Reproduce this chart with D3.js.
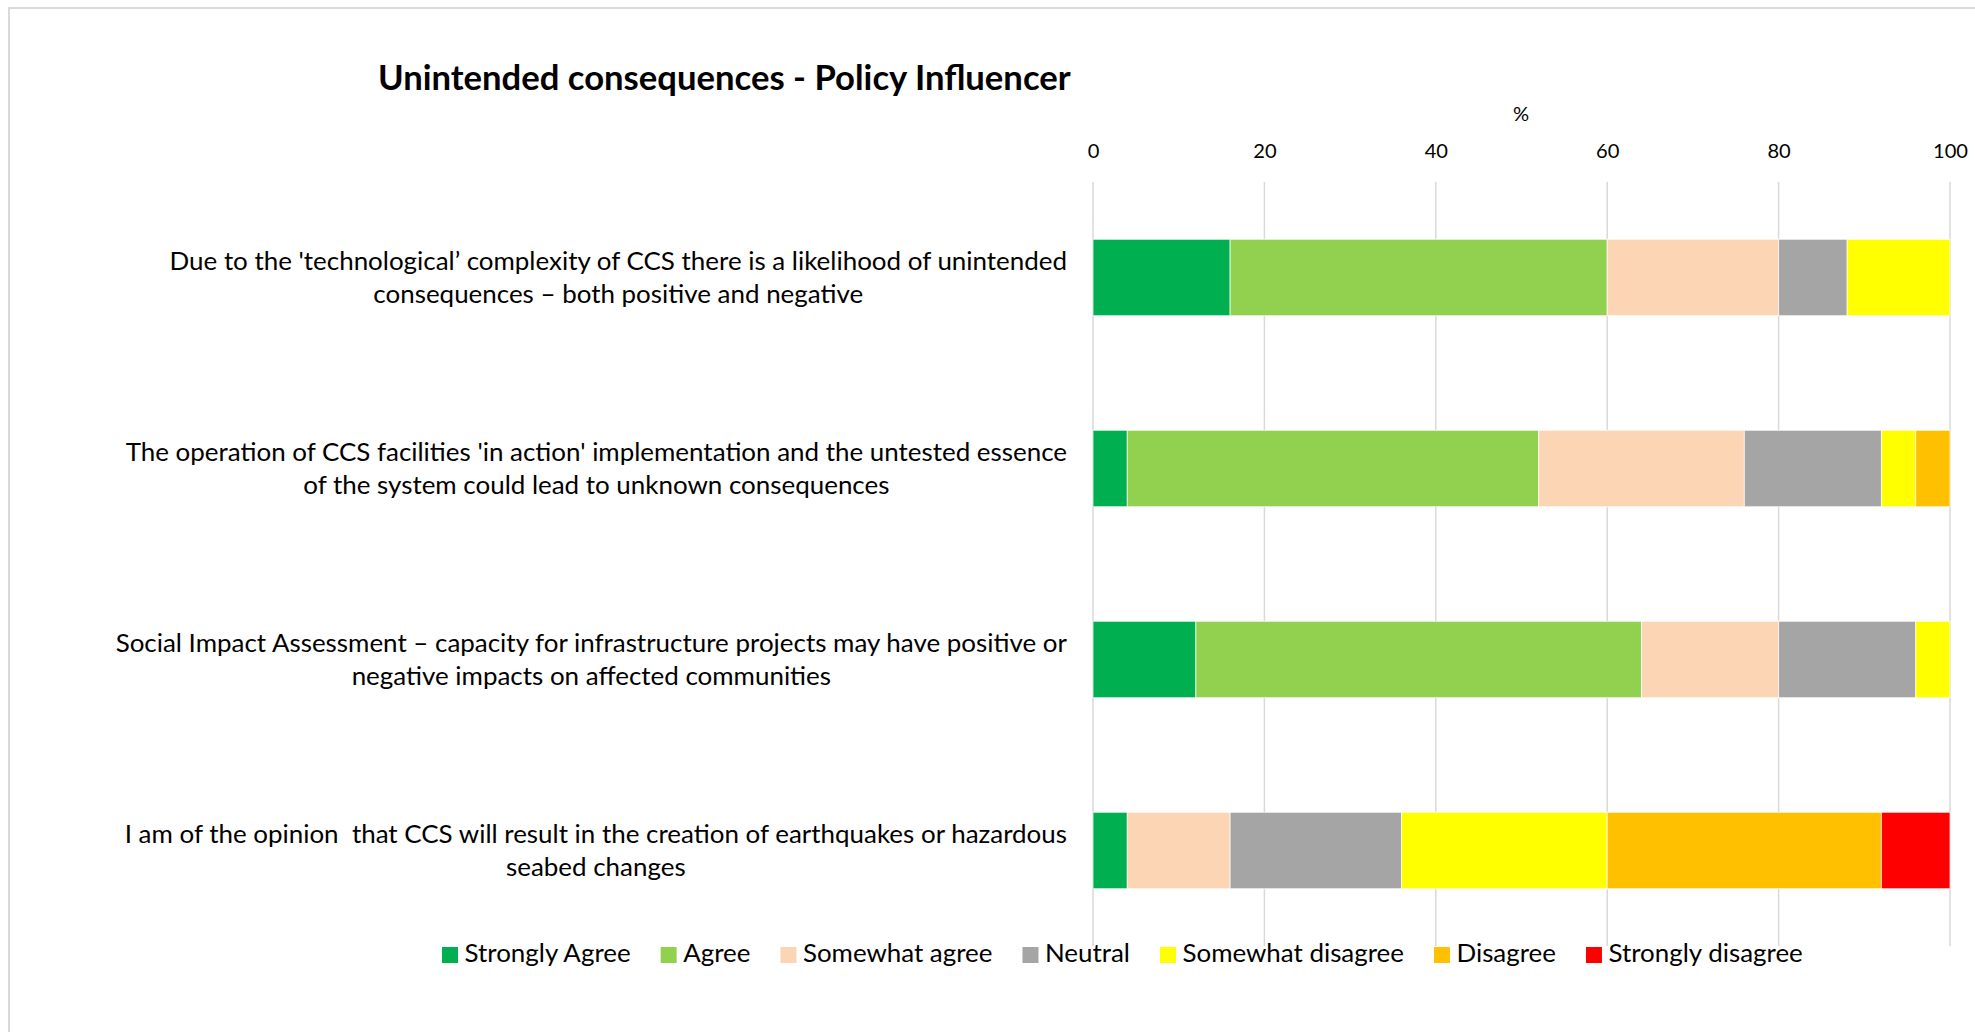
<!DOCTYPE html>
<html>
<head>
<meta charset="utf-8">
<script src="https://cdn.jsdelivr.net/npm/d3@7/dist/d3.min.js"></script>
<style>
  html, body { margin: 0; padding: 0; background: #fff; }
  svg { display: block; }
  text { font-family: Lato, "Noto Sans", sans-serif; fill: #000; }
</style>
</head>
<body>
<svg id="chart" width="1975" height="1032"></svg>
<script>
// Survey statements (each split into its display lines)
const statements = [
  ["Due to the 'technological\u2019 complexity of CCS there is a likelihood of unintended",
   "consequences \u2013 both positive and negative"],
  ["The operation of CCS facilities 'in action' implementation and the untested essence",
   "of the system could lead to unknown consequences"],
  ["Social Impact Assessment \u2013 capacity for infrastructure projects may have positive or",
   "negative impacts on affected communities"],
  ["I am of the opinion  that CCS will result in the creation of earthquakes or hazardous",
   "seabed changes"]
];

// Response categories and their colours
const responses = ["Strongly Agree", "Agree", "Somewhat agree", "Neutral",
                   "Somewhat disagree", "Disagree", "Strongly disagree"];
const responseColors = ["#00B050", "#92D050", "#FCD5B5", "#A5A5A5",
                        "#FFFF00", "#FFC000", "#FF0000"];

// Percentage of respondents per statement
const stronglyAgree    = [16, 4, 12, 4];
const agree            = [44, 48, 52, 0];
const somewhatAgree    = [20, 24, 16, 12];
const neutral          = [8, 16, 16, 20];
const somewhatDisagree = [12, 4, 4, 24];
const disagree         = [0, 4, 0, 32];
const stronglyDisagree = [0, 0, 0, 8];

const xTicks = [0, 20, 40, 60, 80, 100];

const seriesValues = [stronglyAgree, agree, somewhatAgree, neutral,
                      somewhatDisagree, disagree, stronglyDisagree];
const rows = statements.map((s, i) => {
  const r = { key: i };
  responses.forEach((name, j) => { r[name] = seriesValues[j][i]; });
  return r;
});

const svg = d3.select("#chart");

// frame
svg.append("rect").attr("x", 0).attr("y", 0).attr("width", 1975).attr("height", 1032).attr("fill", "#fff");
svg.append("rect").attr("x", 9).attr("y", 8).attr("width", 2100).attr("height", 1200)
  .attr("fill", "none").attr("stroke", "#D9D9D9").attr("stroke-width", 2);

// size a font so that a sample string reaches the given width
function fitSize(sample, width, weight) {
  const t = svg.append("text").attr("font-size", 100).attr("font-weight", weight || "normal")
    .style("white-space", "pre").text(sample);
  const w = t.node().getComputedTextLength();
  t.remove();
  return 100 * width / w;
}

const x = d3.scaleLinear().domain([0, 100]).range([1093, 1950]);
const y = d3.scaleBand().domain(rows.map(r => r.key)).range([182, 946])
  .paddingInner(0.6).paddingOuter(0.3);

// gridlines
svg.append("g").selectAll("line").data(xTicks).join("line")
  .attr("x1", d => x(d)).attr("x2", d => x(d))
  .attr("y1", 182).attr("y2", 946)
  .attr("stroke", "#D9D9D9").attr("stroke-width", 1.5);

// top axis labels
const tickSize = fitSize("100", 35);
const axis = svg.append("g").attr("transform", "translate(0,158)")
  .call(d3.axisTop(x).tickValues(xTicks).tickSize(0).tickPadding(0).tickFormat(d3.format("d")));
axis.select(".domain").remove();
axis.selectAll("text").attr("font-family", "Lato, 'Noto Sans', sans-serif")
  .attr("font-size", tickSize).attr("fill", "#000");

svg.append("text").attr("x", 1521).attr("y", 121).attr("text-anchor", "middle")
  .attr("font-size", tickSize).text("%");

// title
svg.append("text").attr("x", 378).attr("y", 90)
  .attr("font-weight", "bold")
  .attr("font-size", fitSize("Unintended consequences - Policy Influencer", 693, "bold"))
  .text("Unintended consequences - Policy Influencer");

// stacked bars
const stack = d3.stack().keys(responses);
const layers = stack(rows);
svg.append("g").selectAll("g").data(layers).join("g")
  .attr("fill", (d, i) => responseColors[i])
  .selectAll("rect").data(d => d.filter(p => p[1] - p[0] > 0)).join("rect")
  .attr("x", p => x(p[0])).attr("width", p => x(p[1]) - x(p[0]))
  .attr("y", p => y(p.data.key)).attr("height", y.bandwidth())
  .attr("stroke", "#fff").attr("stroke-width", 1).attr("stroke-opacity", 0.7);

// statement labels: block right-aligned to the axis gap, lines centred within it
const labelSize = fitSize(statements[0][0], 898);
const labelRight = 1067;
const labels = svg.append("g").attr("font-size", labelSize);
statements.forEach((lines, i) => {
  const cy = y(i) + y.bandwidth() / 2;
  const g = labels.append("g");
  const texts = lines.map((line, k) => g.append("text")
    .style("white-space", "pre")
    .attr("text-anchor", "middle")
    .attr("y", cy + (k - (lines.length - 1) / 2) * 33 + labelSize * 0.33)
    .text(line));
  const widest = d3.max(texts, t => t.node().getComputedTextLength());
  texts.forEach(t => t.attr("x", labelRight - widest / 2));
});

// legend: one row, swatch + label
const legendSize = fitSize(responses.join(""), 1022);
const legend = svg.append("g");
let lx = 442;
responses.forEach((name, i) => {
  legend.append("rect").attr("x", lx).attr("y", 947).attr("width", 16).attr("height", 16)
    .attr("fill", responseColors[i]);
  const t = legend.append("text").attr("x", lx + 22.5).attr("y", 962)
    .attr("font-size", legendSize).text(name);
  lx += 22.5 + t.node().getComputedTextLength() + 30;
});
</script>
</body>
</html>
